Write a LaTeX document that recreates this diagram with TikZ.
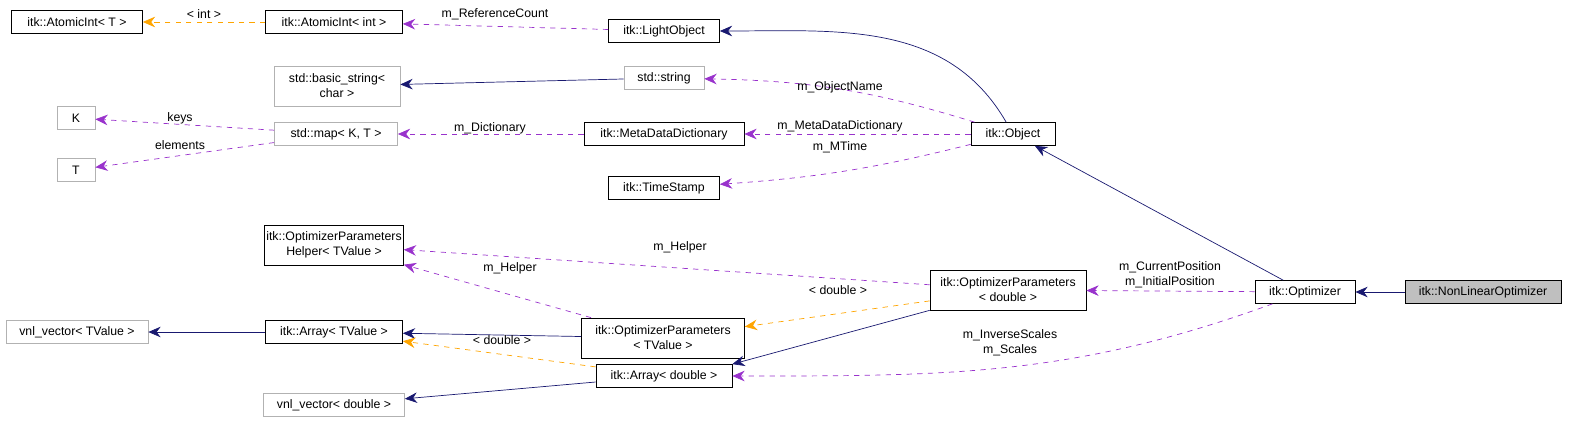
\documentclass[tikz,border=0pt]{standalone}
\usepackage{fontspec}
\setmainfont{Liberation Sans}
\usetikzlibrary{arrows.meta}
\definecolor{usecol}{RGB}{153,50,204}
\definecolor{basecol}{RGB}{25,25,112}
\definecolor{tmplcol}{RGB}{255,165,0}
\tikzset{
  cls/.style={draw, rectangle, fill=white, text centered, align=center, inner sep=1pt, minimum height=0.46cm},
  ext/.style={cls, draw=black!30},
  inherit/.style={draw=basecol, -{Stealth[length=7pt,width=6pt]}},
  member/.style={draw=usecol, dashed, -{Stealth[length=7pt,width=6pt]}},
  tmpl/.style={draw=tmplcol, dashed, -{Stealth[length=7pt,width=6pt]}},
  lbl/.style={align=center, inner sep=0pt}
}
\begin{document}
\begin{tikzpicture}[x=0.02cm, y=-0.02cm, font=\fontsize{7}{8.5}\selectfont]
    \useasboundingbox (0,0) rectangle (1595,429);
    % Classes
    \node (atomict) [cls, minimum width=2.62cm] at (77,22) {itk::AtomicInt< T >};
    \node (atomicint) [cls, minimum width=2.74cm] at (334,22) {itk::AtomicInt< int >};
    \node (lightobj) [cls, minimum width=2.22cm] at (664,31) {itk::LightObject};
    \node (basicstr) [ext, minimum width=2.52cm, minimum height=0.8cm] at (337,86) {std::basic\_string<\\ char >};
    \node (stdstr) [ext, minimum width=1.6cm] at (664,78) {std::string};
    \node (keyk) [ext, minimum width=0.76cm] at (76,118) {K};
    \node (valt) [ext, minimum width=0.76cm] at (76,170) {T};
    \node (stdmap) [ext, minimum width=2.46cm] at (336,134) {std::map< K, T >};
    \node (metadict) [cls, minimum width=3.2cm] at (664,134) {itk::MetaDataDictionary};
    \node (object) [cls, minimum width=1.68cm] at (1013,134) {itk::Object};
    \node (timestamp) [cls, minimum width=2.22cm] at (664,188) {itk::TimeStamp};
    \node (helper) [cls, minimum width=2.74cm, minimum height=0.8cm] at (334,245) {itk::OptimizerParameters\\ Helper< TValue >};
    \node (paramst) [cls, minimum width=3.26cm, minimum height=0.8cm] at (663,338) {itk::OptimizerParameters\\ < TValue >};
    \node (paramsd) [cls, minimum width=3.12cm, minimum height=0.8cm] at (1008,290) {itk::OptimizerParameters\\ < double >};
    \node (optimizer) [cls, minimum width=2cm] at (1305,292) {itk::Optimizer};
    \node (nonlinear) [cls, fill=black!25, minimum width=3.12cm] at (1483,292) {itk::NonLinearOptimizer};
    \node (vnlt) [ext, minimum width=2.84cm] at (77,332) {vnl\_vector< TValue >};
    \node (arrayt) [cls, minimum width=2.74cm] at (334,332) {itk::Array< TValue >};
    \node (arrayd) [cls, minimum width=2.72cm] at (664,376) {itk::Array< double >};
    \node (vnld) [ext, minimum width=2.82cm] at (334,405) {vnl\_vector< double >};
    % Inheritance
    \draw[inherit] (nonlinear) -- (optimizer);
    \draw[inherit] (optimizer) -- (object);
    \draw[inherit] (object) to[out=120, in=0] (lightobj);
    \draw[inherit] (stdstr) -- (basicstr);
    \draw[inherit] (paramst) -- (arrayt);
    \draw[inherit] (arrayt) -- (vnlt);
    \draw[inherit] (arrayd) -- (vnld);
    \draw[inherit] (paramsd.south west) -- (arrayd.north east);
    % Members
    \draw[member] (lightobj) -- (atomicint);
    \draw[member] (object) to[bend right=8] (stdstr);
    \draw[member] (object) -- (metadict);
    \draw[member] (object) to[bend left=5] (timestamp);
    \draw[member] (metadict) -- (stdmap);
    \draw[member] (stdmap) -- (keyk);
    \draw[member] (stdmap) -- (valt);
    \draw[member] (optimizer) -- (paramsd);
    \draw[member] (optimizer) to[out=200, in=0] (arrayd);
    \draw[member] (paramsd) -- (helper);
    \draw[member] (paramst) -- (helper);
    % Templates
    \draw[tmpl] (atomicint) -- (atomict);
    \draw[tmpl] (paramsd) -- (paramst);
    \draw[tmpl] (arrayd) -- (arrayt);
    % Labels
    \node[lbl] at (495,14) {m\_ReferenceCount};
    \node[lbl] at (204,14) {< int >};
    \node[lbl] at (840,87) {m\_ObjectName};
    \node[lbl] at (840,126) {m\_MetaDataDictionary};
    \node[lbl] at (840,147) {m\_MTime};
    \node[lbl] at (490,128) {m\_Dictionary};
    \node[lbl] at (180,118) {keys};
    \node[lbl] at (180,145) {elements};
    \node[lbl] at (680,247) {m\_Helper};
    \node[lbl] at (510,268) {m\_Helper};
    \node[lbl] at (838,290) {< double >};
    \node[lbl] at (502,340) {< double >};
    \node[lbl] at (1170,275) {m\_CurrentPosition\\ m\_InitialPosition};
    \node[lbl] at (1010,343) {m\_InverseScales\\ m\_Scales};
\end{tikzpicture}
\end{document}
